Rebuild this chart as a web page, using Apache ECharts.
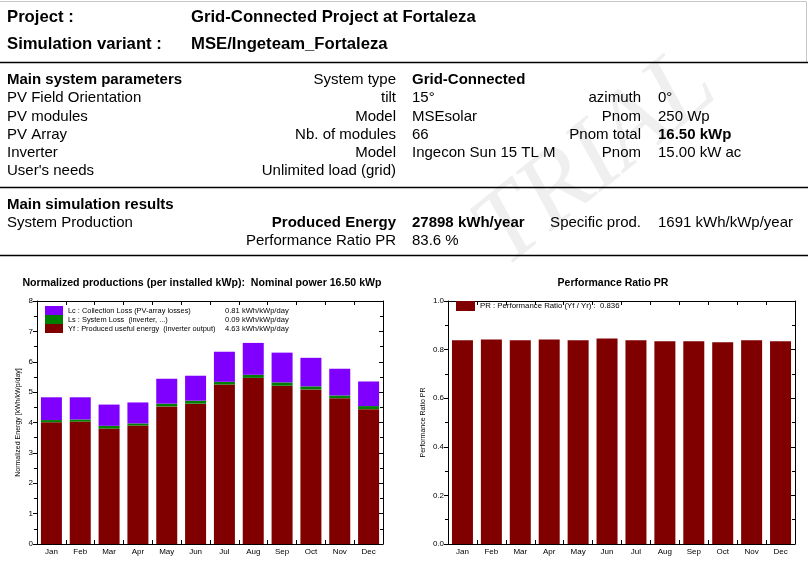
<!DOCTYPE html>
<html>
<head>
<meta charset="utf-8">
<script src="https://cdn.jsdelivr.net/npm/echarts@6/dist/echarts.min.js"></script>
<style>
html,body{margin:0;padding:0;background:#fff;}
#c{width:808px;height:582px;}
</style>
</head>
<body>
<div id="c"></div>
<script>
// ---- data ----
const months = ['Jan','Feb','Mar','Apr','May','Jun','Jul','Aug','Sep','Oct','Nov','Dec'];
const yfValues = [4.01,4.03,3.80,3.90,4.53,4.62,5.25,5.47,5.21,5.09,4.80,4.44];
const lsValues = [0.07,0.07,0.09,0.07,0.09,0.10,0.09,0.10,0.11,0.10,0.09,0.10];
const lcValues = [0.75,0.73,0.70,0.69,0.82,0.82,0.99,1.05,0.98,0.94,0.88,0.81];
const prValues = [0.838,0.842,0.838,0.842,0.838,0.846,0.838,0.834,0.834,0.830,0.838,0.834];

const seriesNames = {
  lc: 'Lc : Collection Loss (PV-array losses)',
  ls: 'Ls : System Loss  (inverter, ...)',
  yf: 'Yf : Produced useful energy  (inverter output)',
  pr: 'PR : Performance Ratio (Yf / Yr) :  0.836'
};
const legendValues = {
  lc: '0.81 kWh/kWp/day',
  ls: '0.09 kWh/kWp/day',
  yf: '4.63 kWh/kWp/day'
};

// header rows: [col1, col2(right aligned), col3, col4(right aligned), col5, boldFlags]
const paramRows = [
  ['Main system parameters','System type','Grid-Connected','','', [1,0,1,0,0]],
  ['PV Field Orientation','tilt','15°','azimuth','0°', [0,0,0,0,0]],
  ['PV modules','Model','MSEsolar','Pnom','250 Wp', [0,0,0,0,0]],
  ['PV Array','Nb. of modules','66','Pnom total','16.50 kWp', [0,0,0,0,1]],
  ['Inverter','Model','Ingecon Sun 15 TL M','Pnom','15.00 kW ac', [0,0,0,0,0]],
  ["User's needs",'Unlimited load (grid)','','','', [0,0,0,0,0]]
];
const resultRows = [
  ['Main simulation results','','','','', [1,0,0,0,0]],
  ['System Production','Produced Energy','27898 kWh/year','Specific prod.','1691 kWh/kWp/year', [0,1,1,0,0]],
  ['','Performance Ratio PR','83.6 %','','', [0,0,0,0,0]]
];

const C_YF = '#800000', C_LS = '#008000', C_LC = '#8000ff';
const FONT = '"Liberation Sans", Arial, sans-serif';

// ---- graphics ----
const g = [];
// watermark
g.push({type:'text', x:596, y:160, rotation:0.68, z:0,
  style:{text:'TRIAL', font:'italic 104px "Liberation Serif", "Times New Roman", serif', fill:'#efefef', align:'center', verticalAlign:'middle'}});
function txt(t, x, y, size, bold, align){
  if(!t) return;
  g.push({type:'text', x:x, y:y, z:10, style:{text:t, font:(bold?'bold ':'')+size+'px '+FONT, fill:'#000', align:align||'left', verticalAlign:'middle'}});
}
function hline(y, w, color){
  g.push({type:'line', z:10, shape:{x1:0,y1:y,x2:808,y2:y}, style:{stroke:color||'#000', lineWidth:w||1}});
}
g.push({type:'polyline', z:10, shape:{points:[[0,1.5],[806.5,1.5],[806.5,62]]}, style:{stroke:'#c8c8c8', lineWidth:1, fill:null}});
txt('Project :', 7, 17, 16.7, true);
txt('Grid-Connected Project at Fortaleza', 191, 17, 16.7, true);
txt('Simulation variant :', 7, 44, 16.7, true);
txt('MSE/Ingeteam_Fortaleza', 191, 44, 16.7, true);
hline(62.5, 1.5);
const colX = [7, 396, 412, 641, 658];
const colA = ['left','right','left','right','left'];
function rows(list, y0, dy){
  list.forEach((r, i) => {
    const y = y0 + i*dy;
    for(let k=0;k<5;k++) txt(r[k], colX[k], y, 15, r[5][k]===1, colA[k]);
  });
}
rows(paramRows, 80, 18.2);
hline(187.5, 1.5);
rows(resultRows, 205, 18);
hline(255.5, 1.5);
// chart titles
txt('Normalized productions (per installed kWp):  Nominal power 16.50 kWp', 202, 283, 10.6, true, 'center');
txt('Performance Ratio PR', 613, 283, 10.5, true, 'center');

// ---- axes helpers ----
const black = {color:'#000', width:1};
function xAx(grid, pos){
  return {gridIndex:grid, type:'category', data:months, position:pos,
    axisLine:{show:true, onZero:false, lineStyle:black},
    axisTick:{show:true, inside:true, length:4, lineStyle:black},
    axisLabel:{show:pos==='bottom', color:'#000', fontSize:8, margin:4, interval:0, fontFamily:FONT},
    splitLine:{show:false}};
}
function yAx(grid, pos, max, interval, name, nameGap, fmt){
  const left = pos==='left';
  return {gridIndex:grid, type:'value', position:pos, min:0, max:max, interval:interval,
    axisLine:{show:true, onZero:false, lineStyle:black},
    axisTick:{show:true, inside:!left, length:4, lineStyle:black},
    minorTick:{show:true, splitNumber:2, length:3, lineStyle:black},
    axisLabel:{show:left, color:'#000', fontSize:8, margin:4, fontFamily:FONT, formatter:fmt},
    splitLine:{show:false},
    name: left ? name : '', nameLocation:'middle', nameGap:nameGap, nameRotate:90,
    nameTextStyle:{fontSize:7, color:'#000', fontFamily:FONT}};
}

const option = {
  animation:false,
  backgroundColor:'#fff',
  graphic:g,
  grid:[
    {left:37, top:301, width:346, height:243},
    {left:448, top:301, width:347, height:243}
  ],
  xAxis:[xAx(0,'bottom'), xAx(0,'top'), xAx(1,'bottom'), xAx(1,'top')],
  yAxis:[
    yAx(0,'left',8,1,'Normalized Energy [kWh/kWp/day]',15, v=>String(v)),
    yAx(0,'right',8,1,'',0),
    yAx(1,'left',1,0.2,'Performance Ratio PR',21, v=>v.toFixed(1)),
    yAx(1,'right',1,0.2,'',0)
  ],
  legend:[
    {left:45, top:306, orient:'vertical', itemWidth:18, itemHeight:9, itemGap:0, padding:0,
     icon:'rect', selectedMode:false,
     data:[seriesNames.lc, seriesNames.ls, seriesNames.yf],
     formatter: n => {
       const key = Object.keys(seriesNames).find(k => seriesNames[k]===n);
       return '{a|'+n+'}{b|'+legendValues[key]+'}';
     },
     textStyle:{fontSize:7.4, color:'#000', lineHeight:9, fontFamily:FONT,
       rich:{a:{width:157, fontSize:7.4, color:'#000', fontFamily:FONT}, b:{fontSize:7.6, color:'#000', fontFamily:FONT}}}},
    {left:456, top:301, orient:'vertical', itemWidth:19, itemHeight:10, padding:0, icon:'rect', selectedMode:false,
     data:[seriesNames.pr],
     textStyle:{fontSize:7.8, color:'#000', fontFamily:FONT}}
  ],
  series:[
    {name:seriesNames.yf, type:'bar', stack:'e', xAxisIndex:0, yAxisIndex:0, barWidth:21, data:yfValues, itemStyle:{color:C_YF}},
    {name:seriesNames.ls, type:'bar', stack:'e', xAxisIndex:0, yAxisIndex:0, barWidth:21, data:lsValues, itemStyle:{color:C_LS}},
    {name:seriesNames.lc, type:'bar', stack:'e', xAxisIndex:0, yAxisIndex:0, barWidth:21, data:lcValues, itemStyle:{color:C_LC}},
    {name:seriesNames.pr, type:'bar', xAxisIndex:2, yAxisIndex:2, barWidth:21, data:prValues, itemStyle:{color:C_YF}}
  ]
};
const chart = echarts.init(document.getElementById('c'), null, {renderer:'canvas'});
chart.setOption(option);
</script>
</body>
</html>
